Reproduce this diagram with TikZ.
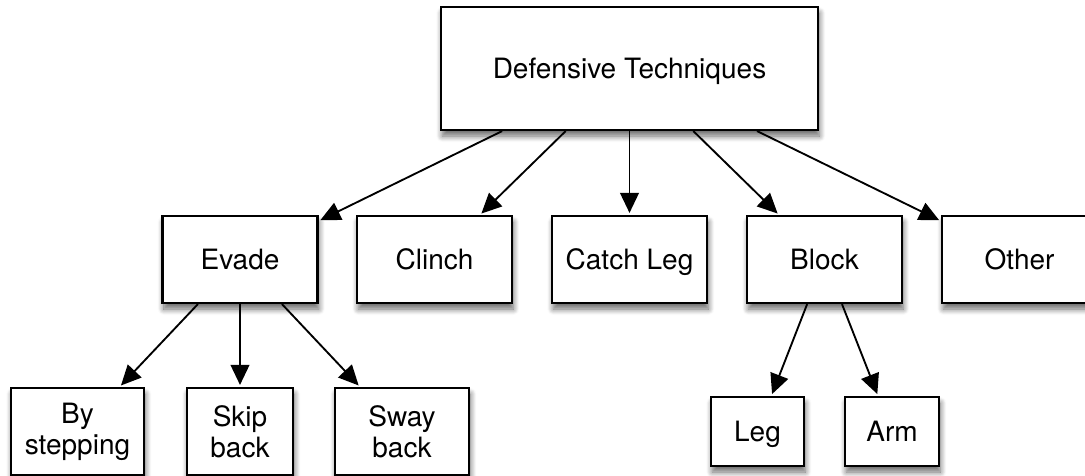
\documentclass[tikz,border=0pt]{standalone}
\usepackage{fontspec}
\setmainfont{TeX Gyre Heros}
\usetikzlibrary{arrows.meta,shadows.blur}
\begin{document}
\begin{tikzpicture}[x=0.75pt,y=-0.75pt,
  box/.style={draw=black, line width=1.6pt, fill=white, inner sep=0pt, align=center,
    font=\fontsize{21}{23.25}\selectfont,
    blur shadow={shadow xshift=1pt, shadow yshift=-4.5pt, shadow blur steps=10,
      shadow blur radius=4.5pt, shadow opacity=60}},
  one/.style={text height=15pt, text depth=0pt},
  mid/.style={box, one, minimum width=116.25pt, minimum height=65.25pt},
  arr/.style={line width=1.4pt, -{Triangle[length=15pt,width=14pt]}, shorten >=1.5pt}]
\useasboundingbox (0,0) rectangle (1085,475);
\clip (0,0) rectangle (1085,475);
\node[box, one, minimum width=282.75pt, minimum height=92.25pt] (top) at (629.5,68.5) {Defensive Techniques};
\node[mid] (evade) at (240,259.5) {Evade};
\node[mid] (clinch) at (434.5,259.5) {Clinch};
\node[mid] (catch) at (629.5,259.5) {Catch Leg};
\node[mid] (block) at (824.5,259.5) {Block};
\node[mid] (other) at (1019.5,259.5) {Other};
\node[box, minimum width=99.75pt, minimum height=65.25pt] (step) at (77.5,431.5) {By\\stepping};
\node[box, minimum width=79.5pt, minimum height=65.25pt] (skip) at (240,431.5) {Skip\\back};
\node[box, minimum width=100.5pt, minimum height=65.25pt] (sway) at (402,431.5) {Sway\\back};
\node[box, one, minimum width=69.75pt, minimum height=51.75pt] (leg) at (757.5,431.5) {Leg};
\node[box, one, minimum width=70.5pt, minimum height=51.75pt] (arm) at (892,431.5) {Arm};
\foreach \c in {evade,clinch,catch,block,other} \draw[arr] (top) -- (\c);
\foreach \c in {step,skip,sway} \draw[arr] (evade) -- (\c);
\foreach \c in {leg,arm} \draw[arr] (block) -- (\c);
\end{tikzpicture}
\end{document}
